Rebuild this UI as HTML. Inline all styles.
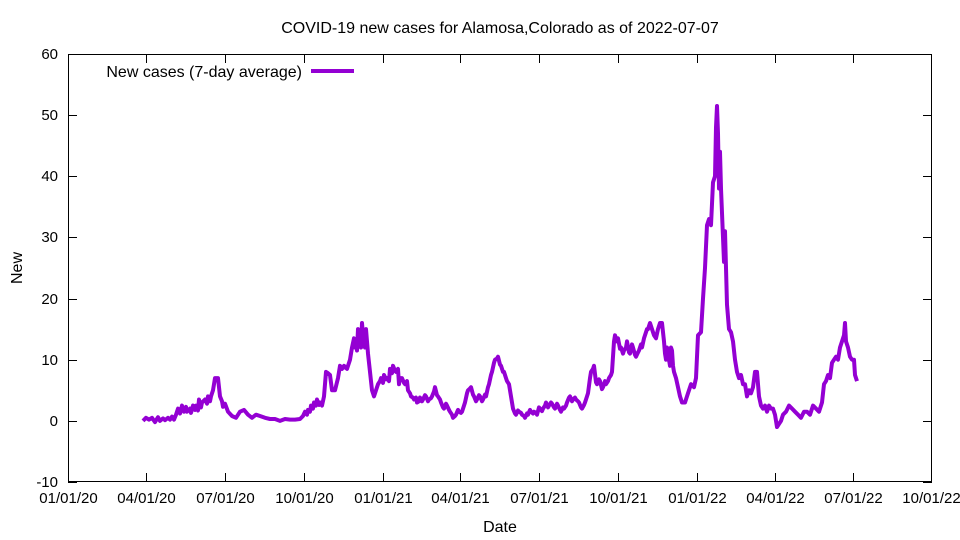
<!DOCTYPE html>
<html><head><meta charset="utf-8"><style>body{margin:0;background:#fff}svg{display:block}text{font-family:"Liberation Sans",sans-serif;font-size:16px;fill:#000}.t{font-size:15px}</style></head>
<body>
<svg id="s" width="960" height="540" xmlns="http://www.w3.org/2000/svg">
<rect x="0" y="0" width="960" height="540" fill="#fff"/>
<text x="500" y="33" text-anchor="middle">COVID-19 new cases for Alamosa,Colorado as of 2022-07-07</text>
<text x="500" y="532" text-anchor="middle">Date</text>
<text transform="translate(22,268) rotate(-90)" text-anchor="middle">New</text>
<rect x="68" y="54" width="864" height="1" fill="#000"/>
<rect x="68" y="481" width="864" height="1" fill="#000"/>
<rect x="68" y="54" width="1" height="428" fill="#000"/>
<rect x="931" y="54" width="1" height="428" fill="#000"/>
<g id="ax" fill="#000"></g>
<g id="lab"></g>
<text x="302" y="77" text-anchor="end">New cases (7-day average)</text>
<line x1="311" y1="71" x2="354" y2="71" stroke="#9400d3" stroke-width="4"/>
<polyline id="pl" fill="none" stroke="#9400d3" stroke-width="4" stroke-linejoin="round"/>
</svg>
<script>
var L=68,R=932,T=54,B=482;function Y(v){return B-(v+10)*(B-T)/70}
var ax=document.getElementById('ax'),lab=document.getElementById('lab'),ns='http://www.w3.org/2000/svg';
function el(p,t,a,tx){var e=document.createElementNS(ns,t);for(var k in a)e.setAttribute(k,a[k]);if(tx)e.textContent=tx;p.appendChild(e);}
for(var v=-10;v<=60;v+=10){var y=Math.round(Y(v));el(ax,'rect',{x:L,y:y,width:9,height:1});el(ax,'rect',{x:R-9,y:y,width:9,height:1});el(lab,'text',{x:58,y:y+5,'text-anchor':'end','class':'t'},String(v));}
var d=[0,91,182,274,366,456,547,639,731,821,912,1004],n=['01/01/20','04/01/20','07/01/20','10/01/20','01/01/21','04/01/21','07/01/21','10/01/21','01/01/22','04/01/22','07/01/22','10/01/22'];
for(var i=0;i<d.length;i++){var x=Math.min(Math.round(L+d[i]*(R-L)/1004),R-1);el(ax,'rect',{x:x,y:B-9,width:1,height:9});el(ax,'rect',{x:x,y:T,width:1,height:9});el(lab,'text',{x:x+.5,y:503,'text-anchor':'middle','class':'t'},n[i]);}
var p=[143,0,146,.5,149,.2,152,.5,155,-.2,158,.6,160,0,163,.4,165,.1,168,.5,170,.2,172,.7,174,.2,176,1,178,2,180,1.2,182,2.5,184,1.5,186,2.3,187,1.5,190,2,191,1.3,193,2.5,195,1.8,196,2.5,198,1.7,199,3.5,201,2.2,202,3,205,3.5,207,2.8,208,4,210,3.2,211,4,213,5,215,7,218,7,220,4,222,3.2,223,2.3,225,2.8,228,1.5,232,.8,236,.5,240,1.5,244,1.8,248,1,252,.5,256,1,260,.8,265,.5,270,.3,275,.3,280,0,285,.3,290,.2,295,.2,300,.3,303,.8,305,1.5,307,1,308,1.8,310,1.5,311,2.5,313,2,314,3,316,2.5,317,3.5,319,2.6,320,3,322,2.5,324,4,326,8,328,7.8,330,7.5,332,5,335,5,338,7,340,9,342,8.5,344,9,347,8.5,350,10,352,12,354,13.5,355,12,356,12.5,357,11.5,358,15,359,12.5,360,13,361,12,362,16,363,14,364,13,365,12,366,15,367,13,368,11,370,8,372,5,374,4,376,5,378,6,380,6.5,381,7,383,6.2,384,7.5,386,6.8,387,7,389,6.5,390,8.5,392,7.8,393,9,395,8.2,396,8,398,8.5,399,6,400,7,402,7,404,6.2,405,6,407,6.5,408,5,410,4.5,411,4,413,3.8,414,3.5,416,3.8,417,3,419,3.2,420,3.8,422,3.2,423,3.5,425,4.2,426,4,428,3.2,429,3.5,431,3.7,432,4,434,4.8,435,5.5,437,4.2,438,4,440,3.5,441,3,443,2.2,444,2,446,2.8,447,2.5,449,1.8,450,1.5,452,1,453,.5,455,.8,456,1,458,1.8,459,1.5,461,1.3,462,1.5,464,2.5,465,3,467,4.5,468,5,470,5.3,471,5.5,473,4.3,474,4,476,3.2,477,3.5,479,4.2,480,4,482,3.2,483,3.5,485,4.3,486,4,488,5.5,489,6,491,7.5,492,8,494,9.5,495,10,497,10.2,498,10.5,500,9.2,501,9,503,8,504,8,506,7,507,6.5,509,6,510,5,512,3,513,2,515,1.2,516,1,518,1.7,519,1.5,521,1.3,522,1,524,.8,525,.5,527,1.2,528,1,530,1.8,531,1.5,533,1.2,534,1.5,536,1.3,537,1,539,2.2,540,2,542,1.6,543,2,545,2.5,546,3,548,2.2,549,2.5,551,3,552,2.8,554,2.2,555,2,557,2.8,558,2.5,560,1.8,561,1.5,563,2.2,564,2,566,2.5,567,3,569,3.8,570,4,572,3.2,573,3.5,575,3.8,576,3.5,578,3.2,579,3,581,2.2,582,2,584,2.6,585,3,587,4,588,4.5,590,7,591,8,593,8.5,594,9,596,6.3,597,6,599,6.8,600,6.5,602,5.2,603,5.5,605,6.5,606,6,608,6.5,609,7,611,7.5,612,8,614,13,615,14,617,13,618,13.5,620,11.8,621,12,623,11,624,11.5,626,12,627,13,629,11.2,630,11,632,12.5,633,12,635,10.8,636,10.5,638,11.2,639,11.5,641,12.5,642,12,644,13.5,645,14,647,15,648,15,650,16,652,15,654,14,656,13.5,658,15,660,16,662,16,664,13,665,11,666,10,667,12,668,11.5,669,10,670,9,671,12,672,11.5,673,9,674,8,676,7,678,5.5,680,4,682,3,685,3,688,4.5,691,6,694,5.5,696,7,698,14,701,14.5,703,20,705,25,707,32,709,33,711,32,713,39,715,40,716,48,717,51.5,718,47,719,38,720,44,721,38,723,30,724,26,725,31,727,19,729,15,731,14.5,733,13,735,10,737,8,739,7,741,7.5,743,6,745,6,747,4,749,5,751,4.5,753,5.5,755,8,757,8,759,4,761,2.5,763,2,765,2.5,767,1.5,769,2.5,771,2,773,2,775,1,777,-1,779,-.5,781,0,783,1,786,1.5,789,2.5,792,2,795,1.5,798,1,801,.5,804,1.5,807,1.5,810,1,813,2.5,816,2,819,1.5,822,3,824,6,826,6.5,828,7.5,830,7,832,9.5,834,10,836,10.5,838,10,840,12,842,13,844,14,845,16,846,13,848,12,850,10.5,852,10,854,10,855,7.5,857,6.5];
var s=[];for(var i=0;i<p.length;i+=2)s.push(p[i]+','+Y(p[i+1]).toFixed(1));document.getElementById('pl').setAttribute('points',s.join(' '));
</script>
</body></html>
